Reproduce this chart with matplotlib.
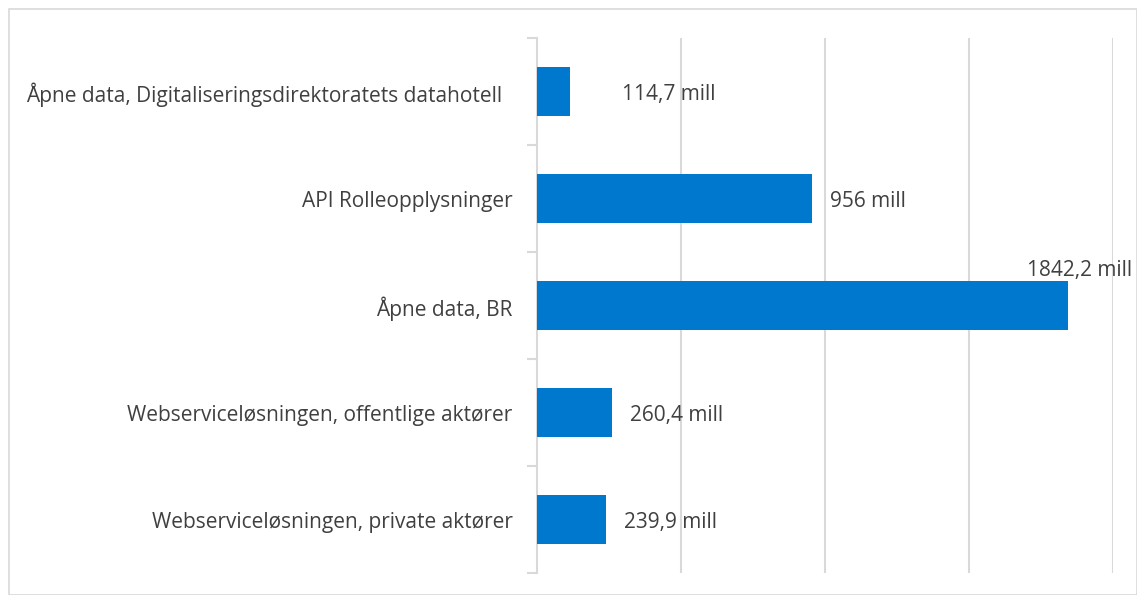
import matplotlib
matplotlib.use("Agg")
import matplotlib.pyplot as plt
from matplotlib.patches import Rectangle
import numpy as np

categories = [
    "Åpne data, Digitaliseringsdirektoratets datahotell",
    "API Rolleopplysninger",
    "Åpne data, BR",
    "Webserviceløsningen, offentlige aktører",
    "Webserviceløsningen, private aktører",
]
values = [114.7, 956.0, 1842.2, 260.4, 239.9]
value_labels = ["114,7 mill", "956 mill", "1842,2 mill", "260,4 mill", "239,9 mill"]

plt.rcParams['font.family'] = ['Open Sans', 'DejaVu Sans']

W, H = 1137, 595
fig = plt.figure(figsize=(W / 100, H / 100), dpi=100)
ax = fig.add_axes([537 / W, 1 - 573 / H, (1113 - 537) / W, (573 - 38) / H])

n = len(categories)
y = np.arange(n)
bar_color = "#0078CE"
ax.barh(y, values, height=0.46, color=bar_color, zorder=3)
ax.set_ylim(n - 0.5, -0.5)
ax.set_xlim(0, 2000)

grid_c = "#d9d9d9"
for xv in [500, 1000, 1500, 2000]:
    ax.axvline(xv, color=grid_c, lw=1.5, zorder=1)

for s in ["top", "right", "bottom"]:
    ax.spines[s].set_visible(False)
ax.spines["left"].set_color(grid_c)
ax.spines["left"].set_linewidth(1.5)
ax.set_xticks([])
ax.set_yticks(np.arange(-0.5, n, 1.0))
ax.set_yticklabels([])
ax.tick_params(axis="y", length=7, width=1.5, color=grid_c, direction="out")

text_c = "#404040"
cat_dx = [-120, -85, -85, -85, -85]
for yi, c, dx in zip(y, categories, cat_dx):
    ax.text(dx, yi + 0.03, c, ha="right", va="center", fontsize=15, color=text_c)

# label positions (offsets in data units from bar end)
offsets = [(180, 0.03), (62, 0.03), (-140, -0.33), (62, 0.03), (62, 0.03)]
for yi, v, lab, (dx, dy) in zip(y, values, value_labels, offsets):
    ax.text(v + dx, yi + dy, lab, ha="left", va="center", fontsize=15, color=text_c, zorder=4)

fig.patches.append(Rectangle((9 / W, 0.5 / H), (W - 9.5) / W, (H - 9.5) / H,
                             transform=fig.transFigure, fill=False,
                             edgecolor="#d9d9d9", lw=1.2))

fig.savefig("out.png", dpi=100, facecolor="white")
